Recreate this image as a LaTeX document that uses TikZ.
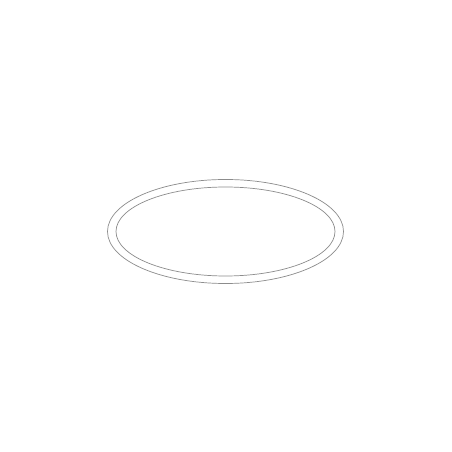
\documentclass[tikz,border=0pt]{standalone}
\begin{document}
\begin{tikzpicture}[x=1pt,y=1pt,ringline/.style={draw=black!45,line width=0.7pt}]
\useasboundingbox[fill=white] (0,0) rectangle (452,452);
\coordinate (c) at (225.5,220.5);
\draw[ringline] (c) ellipse [x radius=118, y radius=52];
\draw[ringline] (c) ellipse [x radius=109.5, y radius=44.5];
\end{tikzpicture}
\end{document}
